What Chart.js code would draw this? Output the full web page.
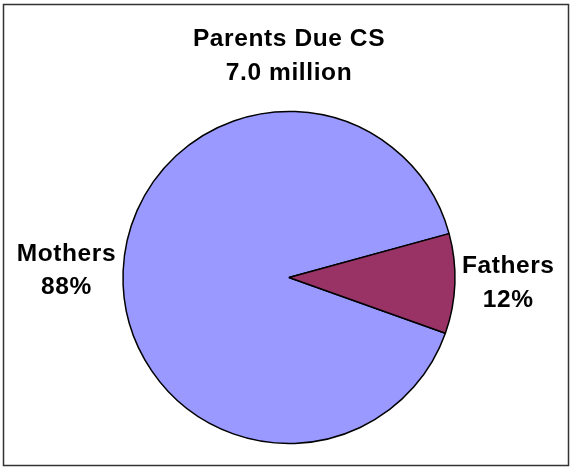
<!DOCTYPE html>
<html>
<head>
<meta charset="utf-8">
<script src="https://cdn.jsdelivr.net/npm/chart.js@4/dist/chart.umd.min.js"></script>
<style>
  body { margin: 0; background: #fff; }
  canvas { display: block; }
</style>
</head>
<body>
<canvas id="myChart" width="570" height="468"></canvas>
<script>
const titleLines = ['Parents Due CS', '7.0 million']
const categories = ['Mothers', 'Fathers']
// slice shares as drawn in the picture
const shares = [90.3, 9.7]
// percent labels as printed in the picture
const pctLabels = ['88%', '12%']
const colors = ['#9999FF', '#993366']

const graph = document.getElementById('myChart')
const labelFont = 'bold 24.5px "Liberation Sans", Arial, sans-serif'

const frame = {
    id: 'frame',
    beforeDraw(chart) {
        const ctx = chart.ctx
        ctx.letterSpacing = '0.6px'
        ctx.save()
        ctx.fillStyle = '#fff'
        ctx.fillRect(0, 0, chart.width, chart.height)
        ctx.strokeStyle = '#333'
        ctx.lineWidth = 1.5
        ctx.strokeRect(3.5, 4.5, 565, 461)
        ctx.restore()
    }
}

const sliceLabels = {
    id: 'sliceLabels',
    afterDatasetsDraw(chart) {
        const ctx = chart.ctx
        const meta = chart.getDatasetMeta(0)
        ctx.save()
        ctx.font = labelFont
        ctx.fillStyle = '#000'
        ctx.textAlign = 'center'
        ctx.textBaseline = 'alphabetic'
        meta.data.forEach((arc, i) => {
            const p = arc.getProps(['x', 'y', 'startAngle', 'endAngle', 'outerRadius'], true)
            const mid = (p.startAngle + p.endAngle) / 2
            const lines = [categories[i], pctLabels[i]]
            const w = Math.max(...lines.map(t => ctx.measureText(t).width))
            const edgeX = p.x + Math.cos(mid) * (p.outerRadius + 7)
            const py = p.y + Math.sin(mid) * p.outerRadius
            const cx = Math.cos(mid) < 0 ? edgeX - w / 2 : edgeX + w / 2
            ctx.fillText(lines[0], cx, py - 10.5)
            ctx.fillText(lines[1], cx, py + 23)
        })
        ctx.restore()
    }
}

new Chart(graph, {
    type: 'pie',
    data: {
        labels: categories,
        datasets: [{
            data: shares,
            backgroundColor: colors,
            borderColor: '#000',
            borderWidth: 1.5
        }]
    },
    options: {
        responsive: false,
        animation: false,
        rotation: 109.6,
        radius: 166,
        layout: { padding: { left: 100, right: 92, top: 0, bottom: 13 } },
        plugins: {
            legend: { display: false },
            tooltip: { enabled: false },
            title: {
                display: true,
                text: titleLines,
                color: '#000',
                font: { family: '"Liberation Sans", Arial, sans-serif', size: 24.5, weight: 'bold', lineHeight: '34px' },
                padding: { top: 22, bottom: 10 }
            }
        }
    },
    plugins: [frame, sliceLabels]
})
</script>
</body>
</html>
